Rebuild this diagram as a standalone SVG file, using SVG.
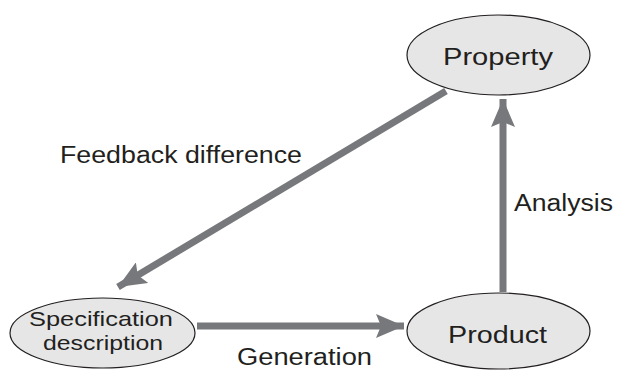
<svg xmlns="http://www.w3.org/2000/svg" width="619" height="370" viewBox="0 0 619 370">
<style>
.node{fill:#e6e6e7;stroke:#231f20;stroke-width:1.2}
.lbl{font-family:"Liberation Sans","Noto Sans",sans-serif;font-size:23px;fill:#231f20;text-anchor:middle}
.sm{font-size:21px}
.el{font-family:"Liberation Sans","Noto Sans",sans-serif;font-size:23px;fill:#231f20}
.conn{stroke:#77787b;stroke-width:7;fill:none}
</style>
<defs>
<marker id="ah" markerUnits="userSpaceOnUse" markerWidth="30" markerHeight="24" refX="28" refY="12" orient="auto">
<path d="M0,0 L28,12 L0,24 L5,12 Z" fill="#77787b"/>
</marker>
</defs>
<rect width="619" height="370" fill="#ffffff"/>
<g id="connectors">
<line class="conn" x1="503" y1="292" x2="503" y2="99" marker-end="url(#ah)"/>
<line class="conn" x1="197" y1="326" x2="404" y2="326" marker-end="url(#ah)"/>
<line class="conn" x1="446" y1="91" x2="118" y2="287" marker-end="url(#ah)"/>
</g>
<g id="property">
<ellipse class="node" cx="498.5" cy="55" rx="91.5" ry="40"/>
<text class="lbl" x="498" y="65" textLength="110" lengthAdjust="spacingAndGlyphs">Property</text>
</g>
<g id="specification">
<ellipse class="node" cx="102.5" cy="333" rx="92.5" ry="35"/>
<text class="lbl sm" x="101" y="326" textLength="144" lengthAdjust="spacingAndGlyphs">Specification</text>
<text class="lbl sm" x="103" y="350" textLength="120" lengthAdjust="spacingAndGlyphs">description</text>
</g>
<g id="product">
<ellipse class="node" cx="498.5" cy="331" rx="91.5" ry="38"/>
<text class="lbl" x="497.5" y="343" textLength="99" lengthAdjust="spacingAndGlyphs">Product</text>
</g>
<g id="labels">
<text class="el" x="60" y="163" textLength="242" lengthAdjust="spacingAndGlyphs">Feedback difference</text>
<text class="el" x="514" y="211" textLength="99" lengthAdjust="spacingAndGlyphs">Analysis</text>
<text class="el" x="237" y="365" textLength="135" lengthAdjust="spacingAndGlyphs">Generation</text>
</g>
</svg>
